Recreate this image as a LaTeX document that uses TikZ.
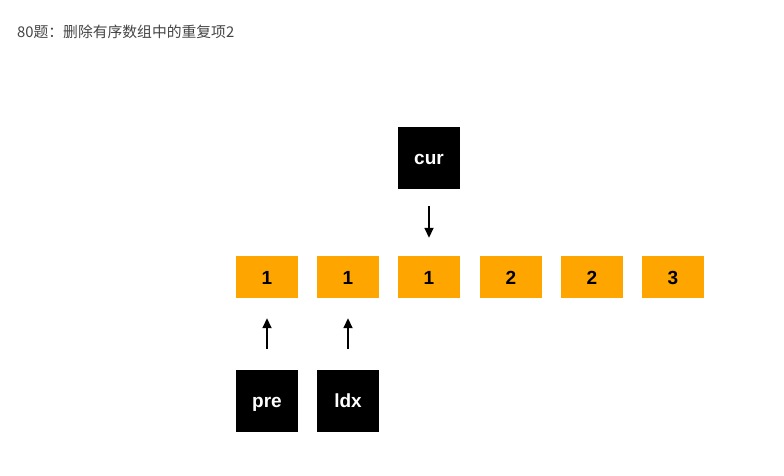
\documentclass[tikz,border=0pt]{standalone}
\usepackage{fontspec}
\setmainfont{Liberation Sans}
\newfontfamily\cjk{Noto Sans CJK SC}
\usetikzlibrary{arrows.meta}
\definecolor{boxorange}{HTML}{FFA500}
\definecolor{titlegray}{HTML}{444444}
\tikzset{
  cell/.style={fill=boxorange, minimum width=62pt, minimum height=42pt, inner sep=0pt, text height=14pt, text depth=0pt, font=\bfseries\fontsize{19}{22}\selectfont, text=black},
  ptr/.style={fill=black, minimum width=62pt, minimum height=62pt, inner sep=0pt, text height=13pt, text depth=0pt, font=\bfseries\fontsize{19}{22}\selectfont, text=white},
  arr/.style={line width=1.7pt, -{Triangle[width=9pt,length=10pt]}}
}
\begin{document}
\begin{tikzpicture}[x=1pt,y=-1pt]
\useasboundingbox (0,0) rectangle (784,476);
\node[anchor=west, font=\cjk\fontsize{14.8}{17}\selectfont, text=titlegray, inner sep=0pt] (title) at (17,32) {80题：删除有序数组中的重复项2};
\node[cell] (a1) at (267,277) {1};
\node[cell] (a2) at (348,277) {1};
\node[cell] (a3) at (429,277) {1};
\node[cell] (a4) at (511,277) {2};
\node[cell] (a5) at (592,277) {2};
\node[cell] (a6) at (673,277) {3};
\node[ptr] (cur) at (429,158) {cur};
\node[ptr] (pre) at (267,401) {pre};
\node[ptr] (idx) at (348,401) {ldx};
\draw[arr, shorten <=17pt, shorten >=18pt] (cur) -- (a3);
\draw[arr, shorten <=21pt, shorten >=20pt] (pre) -- (a1);
\draw[arr, shorten <=21pt, shorten >=20pt] (idx) -- (a2);
\end{tikzpicture}
\end{document}
